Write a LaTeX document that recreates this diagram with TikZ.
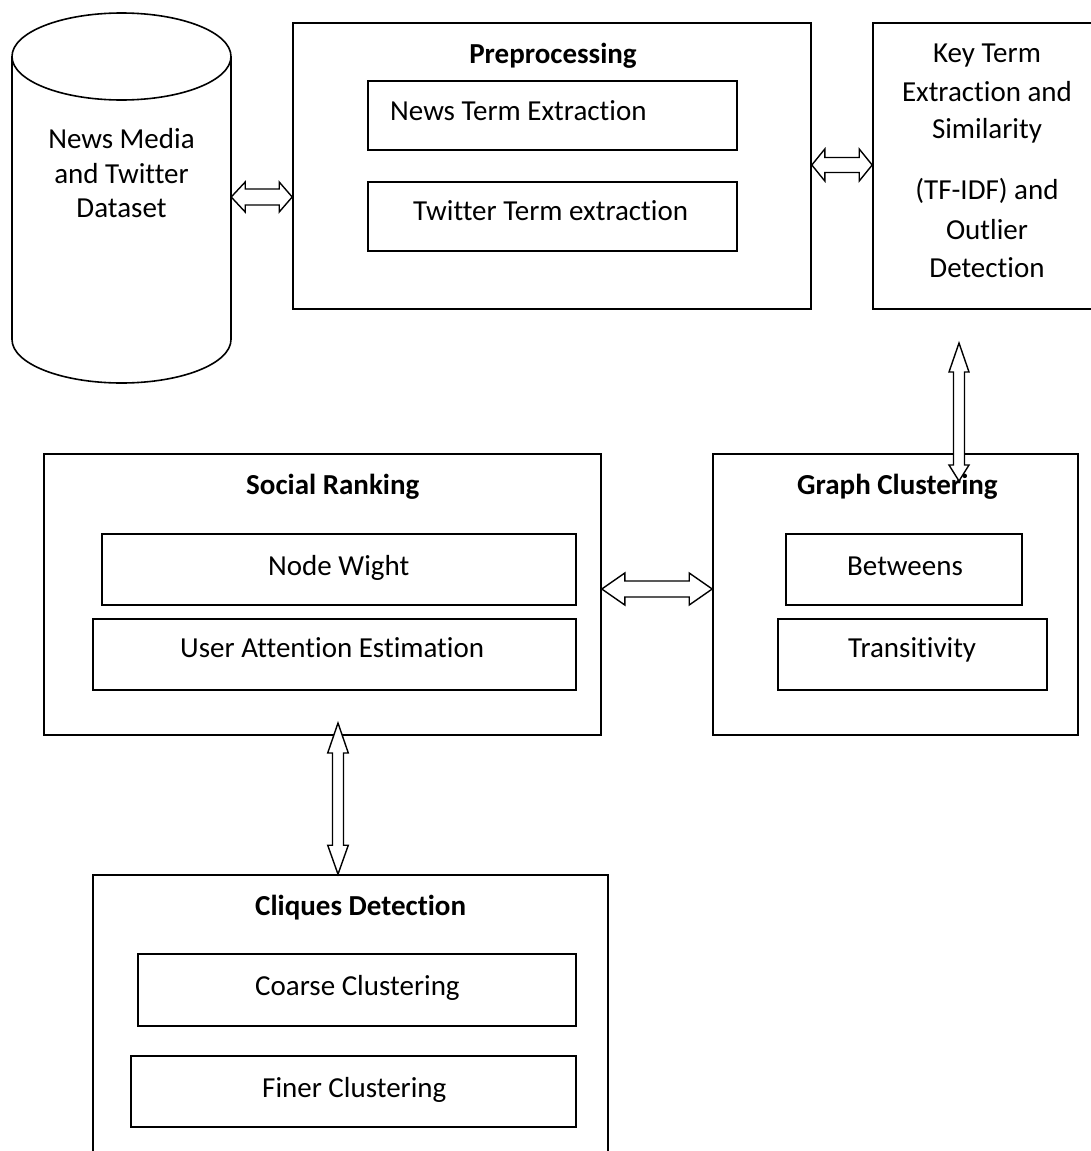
\documentclass[tikz,border=0pt]{standalone}
\usepackage{fontspec}
\setmainfont{Carlito}[Ligatures=NoCommon]
\usetikzlibrary{calc,fit}
\tikzset{
  frame/.style={draw, line width=1.6pt, inner sep=0pt},
  txt/.style={inner sep=0pt, anchor=base, font=\fontsize{29}{34}\selectfont},
  txtl/.style={txt, anchor=base west},
  ttl/.style={txtl, font=\fontsize{29}{34}\selectfont\bfseries},
  arrowline/.style={draw, line width=1.4pt, fill=white, line join=miter},
}
% horizontal double arrow: left pt, right pt, head len L, head len R, head half, shaft half
\newcommand{\hdblarrow}[6]{%
  \path[arrowline] let \p1=(#1), \p2=(#2) in
  (\x1,\y1) -- (\x1+#3pt,\y1+#5pt) -- (\x1+#3pt,\y1+#6pt) -- (\x2-#4pt,\y1+#6pt)
  -- (\x2-#4pt,\y1+#5pt) -- (\x2,\y1) -- (\x2-#4pt,\y1-#5pt) -- (\x2-#4pt,\y1-#6pt)
  -- (\x1+#3pt,\y1-#6pt) -- (\x1+#3pt,\y1-#5pt) -- cycle;}
% vertical double arrow: top pt, bottom pt, head len top, head len bottom, head half, shaft half
\newcommand{\vdblarrow}[6]{%
  \path[arrowline] let \p1=(#1), \p2=(#2) in
  (\x1,\y1) -- (\x1+#5pt,\y1-#3pt) -- (\x1+#6pt,\y1-#3pt) -- (\x1+#6pt,\y2+#4pt)
  -- (\x1+#5pt,\y2+#4pt) -- (\x1,\y2) -- (\x1-#5pt,\y2+#4pt) -- (\x1-#6pt,\y2+#4pt)
  -- (\x1-#6pt,\y1-#3pt) -- (\x1-#5pt,\y1-#3pt) -- cycle;}
\begin{document}
\begin{tikzpicture}[x=1pt,y=-1pt]
\useasboundingbox[fill=white] (0,0) rectangle (1091,1151);

% ---- cylinder: News Media and Twitter Dataset
\node[inner sep=0pt, fit={(12,13) (231,383)}] (cyl) {};
\draw[line width=1.6pt] (121.5,56.5) ellipse [x radius=109.5pt, y radius=43.5pt];
\draw[line width=1.6pt] (12,56.5) -- (12,339.5)
  arc [start angle=180, end angle=360, x radius=109.5pt, y radius=43.5pt]
  -- (231,56.5);
\node[txt] (cyl1) at (121.5,148) {News Media};
\node[txt] (cyl2) at (121.5,183) {and Twitter};
\node[txt] (cyl3) at (121.5,217) {Dataset};

% ---- Preprocessing
\node[frame, fit={(293,23) (811,309)}] (prep) {};
\node[txt, font=\fontsize{29}{34}\selectfont\bfseries] (prept) at (553,63) {Preprocessing};
\node[frame, fit={(368,81) (737,150)}] (newsbox) {};
\node[txtl] (newst) at (390,120) {News Term Extraction};
\node[frame, fit={(368,182) (737,251)}] (twbox) {};
\node[txtl] (twt) at (413,220) {Twitter Term extraction};

% ---- Key Term box (runs off the right edge)
\node[frame, fit={(873,23) (1101,309)}] (key) {};
\node[txt] (k1) at (987,62) {Key Term};
\node[txt] (k2) at (987,101) {Extraction and};
\node[txt] (k3) at (987,138) {Similarity};
\node[txt] (k4) at (987,199) {(TF-IDF) and};
\node[txt] (k5) at (987,239) {Outlier};
\node[txt] (k6) at (987,277) {Detection};

% ---- Social Ranking
\node[frame, fit={(44,454) (601,735)}] (social) {};
\node[ttl] (socialt) at (246,494) {Social Ranking};
\node[frame, fit={(102,534) (576,605)}] (nodebox) {};
\node[txtl] (nodet) at (268,575) {Node Wight};
\node[frame, fit={(93,619) (576,690)}] (userbox) {};
\node[txtl] (usert) at (180,657) {User Attention Estimation};

% ---- Graph Clustering
\node[frame, fit={(713,454) (1078,735)}] (graph) {};
\node[ttl] (grapht) at (797,494) {Graph Clustering};
\node[frame, fit={(786,534) (1022,605)}] (betbox) {};
\node[txtl] (bett) at (847,575) {Betweens};
\node[frame, fit={(778,619) (1047,690)}] (trbox) {};
\node[txtl] (trt) at (848,657) {Transitivity};

% ---- Cliques Detection (runs off the bottom edge)
\node[frame, fit={(93,875) (608,1170)}] (cliq) {};
\node[ttl] (cliqt) at (255,915) {Cliques Detection};
\node[frame, fit={(138,954) (576,1026)}] (coarsebox) {};
\node[txtl] (coarset) at (255,995) {Coarse Clustering};
\node[frame, fit={(131,1056) (576,1127)}] (finerbox) {};
\node[txtl] (finert) at (262,1097) {Finer Clustering};

% ---- connectors (double arrows)
\coordinate (a1l) at (cyl.east |- 0,197);
\coordinate (a1r) at (prep.west |- 0,197);
\hdblarrow{a1l}{a1r}{14}{13}{15}{8}

\coordinate (a2l) at (prep.east |- 0,165);
\coordinate (a2r) at (key.west |- 0,165);
\hdblarrow{a2l}{a2r}{13}{13}{16}{7.5}

\coordinate (a3l) at (social.east |- 0,589);
\coordinate (a3r) at (graph.west |- 0,589);
\hdblarrow{a3l}{a3r}{23}{23}{16}{8}

\coordinate (a4t) at (959,343);
\coordinate (a4b) at (959,481);
\vdblarrow{a4t}{a4b}{29}{16}{10}{5.5}

\coordinate (a5t) at (338,723);
\coordinate (a5b) at (cliq.north -| 338,0);
\vdblarrow{a5t}{a5b}{30}{29}{10.3}{5.5}
\end{tikzpicture}
\end{document}
